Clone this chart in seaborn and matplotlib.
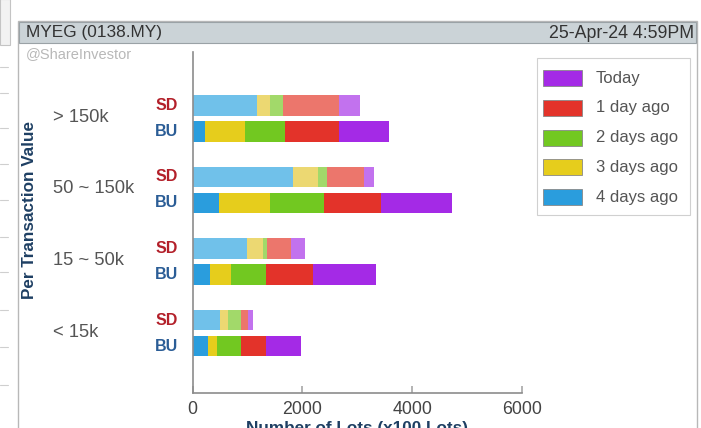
import numpy as np
import pandas as pd
import matplotlib
matplotlib.use("Agg")
import matplotlib.pyplot as plt
from matplotlib.patches import Rectangle
import seaborn as sns

# ---- data (x100 lots) ----
categories = ["> 150k", "50 ~ 150k", "15 ~ 50k", "< 15k"]
kinds = ["SD", "BU"]
series = ["4 days ago", "3 days ago", "2 days ago", "1 day ago", "Today"]

# rows: >150k SD, >150k BU, 50~150k SD, 50~150k BU, 15~50k SD, 15~50k BU, <15k SD, <15k BU
days4 = [1170, 225, 1830, 485, 1000, 315, 500, 275]
days3 = [240, 740, 455, 935, 285, 395, 140, 175]
days2 = [240, 720, 170, 975, 80, 625, 240, 430]
days1 = [1020, 975, 660, 1030, 425, 860, 135, 455]
today = [385, 915, 190, 1295, 260, 1155, 80, 640]

colors_bu = {"Today": "#a42ae6", "1 day ago": "#e3332a", "2 days ago": "#72c821",
             "3 days ago": "#e6cd1c", "4 days ago": "#2a9ddd"}
colors_sd = {"Today": "#c272ee", "1 day ago": "#ec766c", "2 days ago": "#a2d96a",
             "3 days ago": "#ecd872", "4 days ago": "#70c1ea"}

values = {"4 days ago": days4, "3 days ago": days3, "2 days ago": days2,
          "1 day ago": days1, "Today": today}

sns.set_theme(style="white")
plt.rcParams["font.family"] = ["Liberation Sans", "DejaVu Sans"]

W, H = 701, 428
fig = plt.figure(figsize=(W / 100, H / 100), dpi=100)
fig.patch.set_facecolor("white")

# page artifacts on the left
for yy in [67, 93, 128, 164, 200, 237, 272, 310, 347, 385]:
    fig.add_artist(plt.Line2D([0, 8 / W], [1 - yy / H] * 2, color="#cfcfcf", lw=0.8))
fig.add_artist(Rectangle((0, 1 - 45 / H), 10 / W, 46 / H, facecolor="#f2f2f2",
                         edgecolor="#c4c4c4", lw=0.8))

# panel
fig.add_artist(Rectangle((18 / W, -0.01), (697 - 18) / W, (H - 21 + 4) / H,
                         facecolor="white", edgecolor="#b8b8b8", lw=1.0, zorder=0))
# title bar
fig.add_artist(Rectangle((19 / W, 1 - 43 / H), (696 - 19) / W, 21 / H,
                         facecolor="#cbd3d7", edgecolor="#9aa2a6", lw=0.8, zorder=1))
fig.text(26 / W, 1 - 33 / H, "MYEG (0138.MY)", fontsize=12.4, color="#333333",
         va="center", ha="left")
fig.text(694 / W, 1 - 33 / H, "25-Apr-24 4:59PM", fontsize=12.8, color="#333333",
         va="center", ha="right")
fig.text(26 / W, 1 - 54 / H, "@ShareInvestor", fontsize=10.5, color="#b8b8b8",
         va="center", ha="left")

# axes
x0, x6000 = 192.5, 522.0
ytop, ybot = 52, 393
ax = fig.add_axes([x0 / W, 1 - ybot / H, (x6000 - x0) / W, (ybot - ytop) / H])
ax.set_facecolor("none")

spacing = 71.6
gc = 118.3
off = 13.0
pos = []
kind_col = []
for i, c in enumerate(categories):
    for k in kinds:
        pos.append(i + (-off if k == "SD" else off) / spacing)
        kind_col.append(k)

df = pd.DataFrame({"pos": pos, "kind": kind_col})
cum = np.zeros(len(pos))
cums = {}
for s in series:
    cum = cum + np.array(values[s])
    cums[s] = cum.copy()

bar_h = 20.7 / spacing
min_gap = 2 * off / spacing
for s in reversed(series):
    d = df.copy()
    d["val"] = cums[s]
    sns.barplot(data=d, x="val", y="pos", hue="kind", orient="h", native_scale=True,
                dodge=False, width=bar_h / min_gap, linewidth=0, ax=ax,
                palette={"SD": colors_sd[s], "BU": colors_bu[s]}, legend=False,
                saturation=1)

ax.set_xlim(0, 6000)
ax.set_ylim((ybot - gc) / spacing, (ytop - gc) / spacing)
ax.set_xticks([0, 2000, 4000, 6000])
ax.set_xticklabels(["0", "2000", "4000", "6000"], fontsize=12.8, color="#444444")
ax.set_yticks([])
ax.set_ylabel("")
ax.set_xlabel("")
for sp in ["top", "right"]:
    ax.spines[sp].set_visible(False)
for sp in ["left", "bottom"]:
    ax.spines[sp].set_color("#8c8c8c")
    ax.spines[sp].set_linewidth(1.2)
ax.tick_params(axis="x", direction="in", length=5, color="#aaaaaa", pad=6, bottom=True)

# category + kind labels
for i, c in enumerate(categories):
    yc = gc + i * spacing
    fig.text(53 / W, 1 - (yc - 1) / H, c, fontsize=13.2, color="#555555",
             va="center", ha="left")
    fig.text(178 / W, 1 - (yc - off) / H, "SD", fontsize=11.5, fontweight="bold",
             color="#b3202a", va="center", ha="right")
    fig.text(178 / W, 1 - (yc + off) / H, "BU", fontsize=11.5, fontweight="bold",
             color="#2b5d96", va="center", ha="right")

fig.text(30 / W, 1 - 210 / H, "Per Transaction Value", fontsize=12.3, fontweight="bold",
         color="#1e3f63", rotation=90, va="center", ha="center")
fig.text(357 / W, 1 - 428 / H, "Number of Lots (x100 Lots)", fontsize=12.3,
         fontweight="bold", color="#1e3f63", va="center", ha="center")

# legend
lx0, ly0, lx1, ly1 = 537, 58, 690, 215
fig.add_artist(Rectangle((lx0 / W, 1 - ly1 / H), (lx1 - lx0) / W, (ly1 - ly0) / H,
                         facecolor="white", edgecolor="#d0d0d0", lw=0.8, zorder=2))
leg_order = ["Today", "1 day ago", "2 days ago", "3 days ago", "4 days ago"]
for j, s in enumerate(leg_order):
    yy = 78 + j * 29.8
    fig.add_artist(Rectangle((543 / W, 1 - (yy + 8) / H), 39 / W, 16 / H,
                             facecolor=colors_bu[s], edgecolor="#888888", lw=0.6, zorder=3))
    fig.text(596 / W, 1 - yy / H, s, fontsize=12, color="#555555", va="center",
             ha="left", zorder=3)

fig.savefig("out.png", dpi=100)
